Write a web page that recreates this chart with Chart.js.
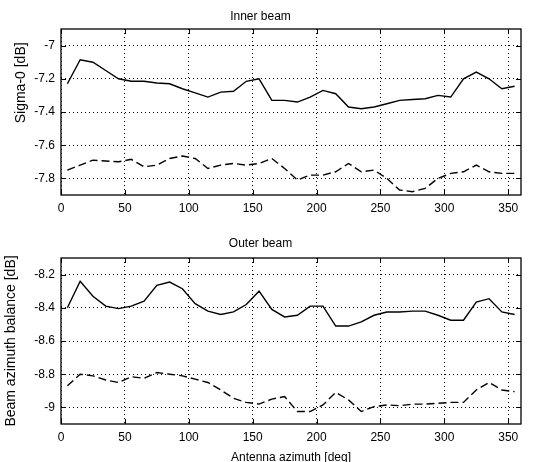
<!DOCTYPE html>
<html>
<head>
<meta charset="utf-8">
<script src="https://cdn.jsdelivr.net/npm/chart.js@4"></script>
<style>
  html, body { margin: 0; padding: 0; background: #fff; overflow: hidden; }
  .plot { position: absolute; left: 0; }
</style>
</head>
<body>
<div class="plot" style="top:0"><canvas id="innerChart" width="541" height="225"></canvas></div>
<div class="plot" style="top:225px"><canvas id="outerChart" width="541" height="245"></canvas></div>
<script>
// antenna azimuth of each sample [deg]
const azimuth = [5, 15, 25, 35, 45, 55, 65, 75, 85, 95, 105, 115, 125, 135, 145, 155, 165, 175,
  185, 195, 205, 215, 225, 235, 245, 255, 265, 275, 285, 295, 305, 315, 325, 335, 345, 355]

// inner beam, sigma-0 [dB]
const innerSolid = [-7.23, -7.085, -7.10, -7.15, -7.20, -7.215, -7.215, -7.225, -7.23, -7.26, -7.285, -7.31,
  -7.28, -7.275, -7.215, -7.20, -7.33, -7.33, -7.34, -7.31, -7.27, -7.29, -7.37, -7.38,
  -7.37, -7.35, -7.33, -7.325, -7.32, -7.30, -7.31, -7.20, -7.16, -7.20, -7.26, -7.245]
const innerDashed = [-7.75, -7.72, -7.69, -7.695, -7.70, -7.685, -7.73, -7.72, -7.68, -7.665, -7.68, -7.74,
  -7.72, -7.71, -7.72, -7.71, -7.68, -7.74, -7.81, -7.78, -7.78, -7.76, -7.71, -7.76,
  -7.75, -7.80, -7.87, -7.88, -7.86, -7.80, -7.77, -7.76, -7.72, -7.76, -7.77, -7.77]

// outer beam, beam azimuth balance [dB]
const outerSolid = [-8.40, -8.24, -8.33, -8.39, -8.405, -8.39, -8.36, -8.265, -8.245, -8.285, -8.375, -8.42,
  -8.44, -8.425, -8.38, -8.30, -8.41, -8.455, -8.445, -8.39, -8.39, -8.51, -8.51, -8.485,
  -8.445, -8.425, -8.425, -8.42, -8.42, -8.445, -8.475, -8.475, -8.365, -8.345, -8.425, -8.44]
const outerDashed = [-8.87, -8.80, -8.81, -8.835, -8.85, -8.815, -8.825, -8.79, -8.80, -8.81, -8.83, -8.85,
  -8.895, -8.945, -8.97, -8.98, -8.95, -8.935, -9.025, -9.025, -8.985, -8.91, -8.955, -9.025,
  -8.995, -8.985, -8.99, -8.98, -8.98, -8.975, -8.97, -8.97, -8.895, -8.85, -8.895, -8.905]

// tick labels
const xTicks = [0, 50, 100, 150, 200, 250, 300, 350]
const innerYTicks = [-7.8, -7.6, -7.4, -7.2, -7]
const outerYTicks = [-9, -8.8, -8.6, -8.4, -8.2]

const FONT = 'Arial, "Liberation Sans", Helvetica, sans-serif'

// box round the plot with inward ticks, like matlab
const boxPlugin = {
	id: 'box',
	afterDraw(chart) {
		const { ctx, chartArea: a, scales } = chart
		ctx.save()
		ctx.strokeStyle = '#000'
		ctx.lineWidth = 1.3
		ctx.strokeRect(a.left, a.top, a.right - a.left, a.bottom - a.top)
		ctx.lineWidth = 1
		ctx.beginPath()
		scales.x.ticks.forEach(t => {
			const px = Math.round(scales.x.getPixelForValue(t.value)) + 0.5
			ctx.moveTo(px, a.bottom); ctx.lineTo(px, a.bottom - 5)
			ctx.moveTo(px, a.top); ctx.lineTo(px, a.top + 5)
		})
		scales.y.ticks.forEach(t => {
			const py = Math.round(scales.y.getPixelForValue(t.value)) + 0.5
			ctx.moveTo(a.left, py); ctx.lineTo(a.left + 5, py)
			ctx.moveTo(a.right, py); ctx.lineTo(a.right - 5, py)
		})
		ctx.stroke()
		ctx.restore()
	},
}

const makeChart = (id, opts) => {
	const ctx = document.getElementById(id).getContext('2d')
	return new Chart(ctx, {
		type: 'line',
		data: {
			datasets: [
				{
					data: azimuth.map((x, i) => ({ x, y: opts.solid[i] })),
					borderColor: '#000',
					borderWidth: 1.4,
					pointRadius: 0,
					tension: 0,
				},
				{
					data: azimuth.map((x, i) => ({ x, y: opts.dashed[i] })),
					borderColor: '#000',
					borderWidth: 1.4,
					borderDash: [8, 4],
					pointRadius: 0,
					tension: 0,
				},
			],
		},
		options: {
			responsive: false,
			animation: false,
			devicePixelRatio: 1,
			layout: { padding: { left: 0, right: 20, top: 0, bottom: 0 } },
			plugins: {
				legend: { display: false },
				tooltip: { enabled: false },
				title: {
					display: true,
					text: opts.title,
					color: '#000',
					font: { family: FONT, size: 12, weight: 'normal' },
					padding: opts.titlePad,
				},
			},
			scales: {
				x: {
					type: 'linear',
					min: 0,
					max: 360,
					afterBuildTicks: s => { s.ticks = xTicks.map(value => ({ value })) },
					afterFit: s => { s.height = opts.xHeight },
					border: { display: false, dash: [1, 3] },
					grid: { color: '#000', lineWidth: 1, drawTicks: false },
					ticks: {
						color: '#000',
						padding: 6,
						maxRotation: 0,
						font: { family: FONT, size: 12 },
						callback: v => String(v),
					},
					title: opts.xTitle ? {
						display: true,
						text: opts.xTitle,
						color: '#000',
						font: { family: FONT, size: 12 },
						padding: { top: 0, bottom: 4.8 },
					} : { display: false },
				},
				y: {
					type: 'linear',
					min: opts.yMin,
					max: opts.yMax,
					afterBuildTicks: s => { s.ticks = opts.yTicks.map(value => ({ value })) },
					afterFit: s => { s.width = 61 },
					border: { display: false, dash: [1, 3] },
					grid: { color: '#000', lineWidth: 1, drawTicks: false },
					ticks: {
						color: '#000',
						padding: 6,
						font: { family: FONT, size: 12 },
						callback: v => String(Math.round(v * 10) / 10),
					},
					title: {
						display: true,
						text: opts.yTitle,
						color: '#000',
						font: { family: FONT, size: opts.yTitleSize },
						padding: { top: opts.yTitlePad, bottom: 0 },
					},
				},
			},
		},
		plugins: [boxPlugin],
	})
}

makeChart('innerChart', {
	title: 'Inner beam',
	titlePad: { top: 9.8, bottom: 4.8 },
	solid: innerSolid,
	dashed: innerDashed,
	yMin: -7.9,
	yMax: -6.9,
	yTicks: innerYTicks,
	yTitle: '\u00a0'.repeat(15) + 'Sigma-0 [dB]',
	yTitleSize: 14,
	yTitlePad: 12.6,
	xHeight: 30,
})

makeChart('outerChart', {
	title: 'Outer beam',
	titlePad: { top: 11.8, bottom: 6.8 },
	solid: outerSolid,
	dashed: outerDashed,
	yMin: -9.1,
	yMax: -8.1,
	yTicks: outerYTicks,
	yTitle: 'Beam azimuth balance [dB]',
	yTitleSize: 14,
	yTitlePad: 2.6,
	xHeight: 46,
	xTitle: 'Antenna azimuth [deg]',
})
</script>
</body>
</html>
